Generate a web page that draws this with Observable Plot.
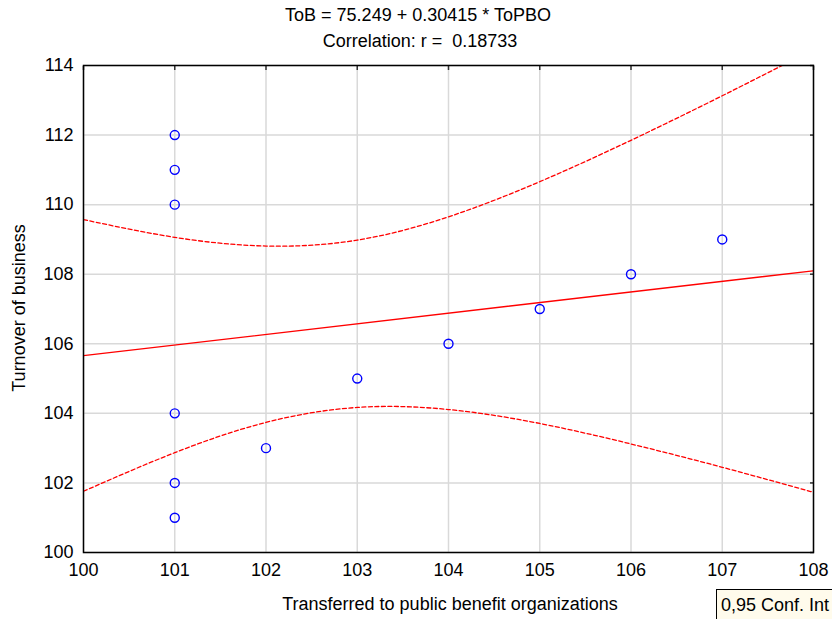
<!DOCTYPE html>
<html>
<head>
<meta charset="utf-8">
<script src="https://cdn.jsdelivr.net/npm/d3@7"></script>
<script src="https://cdn.jsdelivr.net/npm/@observablehq/plot@0.6"></script>
<style>
  html, body { margin: 0; padding: 0; background: #fff; }
  #wrap { position: relative; width: 832px; height: 619px; overflow: hidden; font-family: "Liberation Sans", Arial, sans-serif; color: #000; }
  .t { position: absolute; white-space: nowrap; font-size: 18px; }
  #title1 { left: 418px; top: 5px; transform: translateX(-50%); }
  #title2 { left: 420px; top: 31px; transform: translateX(-50%); }
  #xlab { left: 450px; top: 594px; transform: translateX(-50%); }
  #ylab { left: 19px; top: 308px; transform: translate(-50%, -50%) rotate(-90deg); }
  #legend { left: 716px; top: 589px; width: 130px; height: 32px; box-sizing: border-box; border: 1px solid #000; background: #fffbec; padding: 5px 0 0 4px; }
  #chart { position: absolute; left: 0; top: 55px; }
</style>
</head>
<body>
<div id="wrap">
  <div class="t" id="title1">ToB = 75.249 + 0.30415 * ToPBO</div>
  <div class="t" id="title2">Correlation: r =&nbsp; 0.18733</div>
  <div id="chart"></div>
  <div class="t" id="ylab">Turnover of business</div>
  <div class="t" id="xlab">Transferred to public benefit organizations</div>
  <div class="t" id="legend">0,95 Conf. Int</div>
</div>
<script>
// Observations: Transferred to public benefit organizations (ToPBO) vs Turnover of business (ToB)
const pointX = [101, 101, 101, 101, 101, 101, 102, 103, 104, 105, 106, 107];
const pointY = [112, 111, 110, 104, 102, 101, 103, 105, 106, 107, 108, 109];

// Fitted regression line endpoints
const fitX = [100, 108];
const fitY = [105.66, 108.10];

// 95% confidence band
const bandX = [100, 101, 102, 103, 104, 105, 106, 107, 108];
const bandUpper = [109.57, 109.06, 108.81, 108.98, 109.65, 110.66, 111.85, 113.13, 114.46];
const bandLower = [101.76, 102.87, 103.74, 104.17, 104.11, 103.71, 103.12, 102.45, 101.73];

// Tick labels
const xTicks = [100, 101, 102, 103, 104, 105, 106, 107, 108];
const yTicks = [100, 102, 104, 106, 108, 110, 112, 114];

const points = pointX.map((x, i) => ({x, y: pointY[i]}));
const fit = fitX.map((x, i) => ({x, y: fitY[i]}));
const upper = bandX.map((x, i) => ({x, y: bandUpper[i]}));
const lower = bandX.map((x, i) => ({x, y: bandLower[i]}));

const chart = Plot.plot({
  width: 832,
  height: 564,
  marginTop: 10,
  marginBottom: 67,
  marginLeft: 83,
  marginRight: 19,
  style: {fontFamily: "'Liberation Sans', Arial, sans-serif", fontSize: "18px", color: "#000", background: "transparent"},
  x: {domain: [100, 108], ticks: xTicks},
  y: {domain: [100, 114], ticks: yTicks},
  marks: [
    Plot.gridX(xTicks, {stroke: "#d9d9d9", strokeOpacity: 1, strokeWidth: 1.5}),
    Plot.gridY(yTicks, {stroke: "#d9d9d9", strokeOpacity: 1, strokeWidth: 1.5}),
    Plot.axisX(xTicks, {anchor: "bottom", tickSize: 0, tickPadding: 11, label: null, fill: "#000"}),
    Plot.axisY(yTicks, {anchor: "left", tickSize: 0, tickPadding: 10, label: null, fill: "#000"}),
    Plot.axisX(xTicks, {anchor: "top", tickSize: -4, tickFormat: () => "", label: null, stroke: "#333", strokeWidth: 1.5}),
    Plot.axisY(yTicks, {anchor: "right", tickSize: -4, tickFormat: () => "", label: null, stroke: "#333", strokeWidth: 1.5}),
    Plot.line(upper, {x: "x", y: "y", curve: "natural", stroke: "#ff0000", strokeWidth: 1.3, strokeDasharray: "4,2.5", clip: true}),
    Plot.line(lower, {x: "x", y: "y", curve: "natural", stroke: "#ff0000", strokeWidth: 1.3, strokeDasharray: "4,2.5", clip: true}),
    Plot.line(fit, {x: "x", y: "y", stroke: "#ff0000", strokeWidth: 1.3, clip: true}),
    Plot.dot(points, {x: "x", y: "y", r: 4.5, stroke: "#0000ff", strokeWidth: 1.4, fill: "none"}),
    Plot.frame({stroke: "#000", strokeWidth: 1.5})
  ]
});
document.getElementById("chart").appendChild(chart);
</script>
</body>
</html>
